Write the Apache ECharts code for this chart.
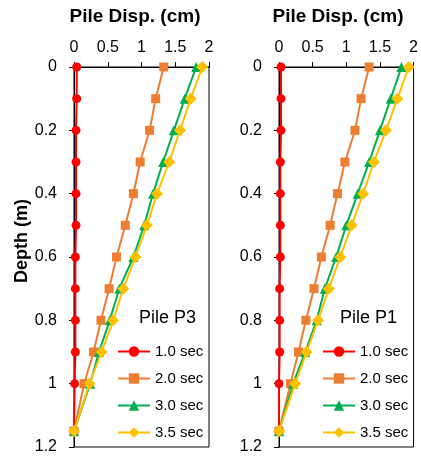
<!DOCTYPE html>
<html><head><meta charset="utf-8">
<script src="https://cdn.jsdelivr.net/npm/echarts@6/dist/echarts.min.js"></script>
<style>html,body{margin:0;padding:0;background:#fff}#c{width:421px;height:456px}</style>
</head><body><div id="c"></div>
<script>
const depths = [0, 0.1, 0.2, 0.3, 0.4, 0.5, 0.6, 0.7, 0.8, 0.9, 1.0, 1.15];
const seriesNames = ['1.0 sec', '2.0 sec', '3.0 sec', '3.5 sec'];
const xTicks = [0, 0.5, 1, 1.5, 2];
const yTicks = [0, 0.2, 0.4, 0.6, 0.8, 1.0, 1.2];
const panelTitles = ['Pile P3', 'Pile P1'];
// Pile P3 (left)
const p3_10 = [0.04, 0.04, 0.03, 0.03, 0.03, 0.03, 0.02, 0.02, 0.02, 0.02, 0.01, 0];
const p3_20 = [1.33, 1.21, 1.12, 0.98, 0.88, 0.76, 0.63, 0.52, 0.40, 0.29, 0.15, 0];
const p3_30 = [1.81, 1.64, 1.48, 1.32, 1.17, 1.04, 0.88, 0.67, 0.53, 0.37, 0.24, 0];
const p3_35 = [1.90, 1.73, 1.57, 1.41, 1.23, 1.08, 0.91, 0.73, 0.58, 0.41, 0.23, 0];
// Pile P1 (right)
const p1_10 = [0.03, 0.03, 0.03, 0.02, 0.02, 0.02, 0.02, 0.01, 0.01, 0.01, 0.0, 0];
const p1_20 = [1.34, 1.22, 1.13, 0.98, 0.87, 0.76, 0.63, 0.52, 0.40, 0.29, 0.17, 0];
const p1_30 = [1.82, 1.66, 1.50, 1.34, 1.17, 1.00, 0.85, 0.68, 0.56, 0.39, 0.21, 0];
const p1_35 = [1.93, 1.76, 1.59, 1.41, 1.25, 1.08, 0.91, 0.74, 0.58, 0.41, 0.24, 0];

const FONT = '"Liberation Sans", Arial, sans-serif';
const colors = ['#FF0000', '#ED7D31', '#00B050', '#FFC000'];
const symbols = ['circle', 'rect', 'triangle', 'diamond'];
const symSizes = [9, 9, 10, 12];

const panels = [[p3_10, p3_20, p3_30, p3_35], [p1_10, p1_20, p1_30, p1_35]];
const gridLefts = [74, 279];

function pairs(xs) { return xs.map((v, i) => [v, depths[i]]); }

const grid = [], xAxis = [], yAxis = [], series = [], legend = [], graphic = [];
panels.forEach((p, gi) => {
  grid.push({ left: gridLefts[gi], top: 67, width: 135, height: 380, show: true, borderColor: '#000', borderWidth: 1, backgroundColor: 'transparent' });
  xAxis.push({
    type: 'value', gridIndex: gi, position: 'top', min: xTicks[0], max: xTicks[xTicks.length - 1], interval: 0.5,
    axisLine: { show: true, onZero: false, lineStyle: { color: '#000', width: 1 } },
    axisTick: { show: true, length: 5, lineStyle: { color: '#000' } },
    axisLabel: { fontFamily: FONT, fontSize: 16, color: '#000', margin: 11 },
    splitLine: { show: false }
  });
  yAxis.push({
    type: 'value', gridIndex: gi, inverse: true, min: yTicks[0], max: yTicks[yTicks.length - 1], interval: 0.2,
    axisLine: { show: true, onZero: false, lineStyle: { color: '#000', width: 1 } },
    axisTick: { show: true, length: 5, lineStyle: { color: '#000' } },
    axisLabel: { fontFamily: FONT, fontSize: 16, color: '#000', margin: 17 },
    splitLine: { show: false }
  });
  p.forEach((vals, si) => {
    series.push({
      name: seriesNames[si], type: 'line', xAxisIndex: gi, yAxisIndex: gi,
      data: pairs(vals), symbol: symbols[si], symbolSize: symSizes[si],
      itemStyle: { color: colors[si] }, lineStyle: { color: colors[si], width: 2 },
      z: 2 + si, animation: false
    });
  });
  legend.push({
    data: seriesNames, orient: 'vertical', left: 117 + (gridLefts[gi] - 74), top: 344,
    itemWidth: 32, itemHeight: 13, itemGap: 12, selectedMode: false,
    textStyle: { fontFamily: FONT, fontSize: 15, color: '#000', padding: [0, 0, 0, 0] }, padding: 0
  });
  graphic.push({
    type: 'text', left: 139 + (gridLefts[gi] - 74) + (gi === 1 ? -4 : 0), top: 309,
    style: { text: panelTitles[gi], font: '18px ' + FONT, fill: '#000' }
  });
  graphic.push({
    type: 'text', x: [135, 338][gi], y: 17,
    style: { text: 'Pile Disp. (cm)', font: 'bold 19px ' + FONT, fill: '#000', textAlign: 'center', textVerticalAlign: 'middle' }
  });
});
graphic.push({
  type: 'text', x: 22, y: 241, rotation: Math.PI / 2,
  style: { text: 'Depth (m)', font: 'bold 18px ' + FONT, fill: '#000', textAlign: 'center', textVerticalAlign: 'middle' }
});

const chart = echarts.init(document.getElementById('c'), null, { renderer: 'canvas' });
chart.setOption({ animation: false, backgroundColor: '#fff', grid, xAxis, yAxis, series, legend, graphic });
</script>
</body></html>
